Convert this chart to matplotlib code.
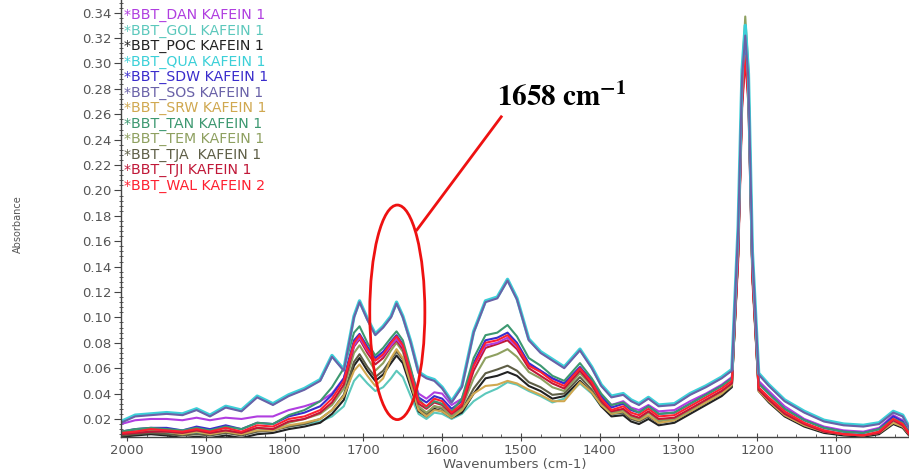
import matplotlib
matplotlib.use('Agg')
import matplotlib.pyplot as plt
from matplotlib.patches import Ellipse
from matplotlib.ticker import MultipleLocator, FormatStrFormatter

plt.rcParams['mathtext.fontset'] = 'stix'

# wavenumber grid (cm-1)
wn = [2008, 1990, 1970, 1950, 1930, 1912, 1895, 1875, 1855, 1835,
      1815, 1795, 1775, 1755, 1740, 1725, 1712, 1705, 1695, 1685,
      1675, 1665, 1658, 1650, 1640, 1630, 1620, 1610, 1600, 1588,
      1575, 1560, 1545, 1530, 1517, 1505, 1490, 1475, 1460, 1445,
      1425, 1410, 1398, 1385, 1370, 1360, 1350, 1338, 1325, 1305,
      1285, 1265, 1245, 1232, 1224, 1219, 1215, 1211, 1206, 1198,
      1185, 1165, 1140, 1115, 1090, 1065, 1045, 1027, 1015, 1007]

# absorbance of each sample
dan = [0.016, 0.019, 0.020, 0.020, 0.019, 0.021, 0.019, 0.021, 0.020, 0.022,
       0.022, 0.027, 0.030, 0.034, 0.040, 0.052, 0.078, 0.084, 0.074, 0.066,
       0.070, 0.078, 0.083, 0.077, 0.058, 0.040, 0.036, 0.041, 0.040, 0.031,
       0.036, 0.062, 0.078, 0.080, 0.084, 0.077, 0.063, 0.058, 0.052, 0.048,
       0.060, 0.050, 0.039, 0.031, 0.034, 0.029, 0.027, 0.031, 0.026, 0.027,
       0.034, 0.040, 0.047, 0.053, 0.155, 0.280, 0.318, 0.282, 0.145, 0.050,
       0.042, 0.030, 0.020, 0.014, 0.011, 0.010, 0.013, 0.023, 0.019, 0.011]
gol = [0.007, 0.008, 0.009, 0.009, 0.008, 0.009, 0.008, 0.009, 0.009, 0.011,
       0.012, 0.014, 0.016, 0.018, 0.022, 0.030, 0.050, 0.055, 0.048, 0.042,
       0.045, 0.052, 0.058, 0.053, 0.038, 0.024, 0.020, 0.025, 0.024, 0.020,
       0.024, 0.034, 0.040, 0.044, 0.049, 0.047, 0.042, 0.038, 0.033, 0.036,
       0.048, 0.040, 0.030, 0.024, 0.025, 0.021, 0.019, 0.022, 0.018, 0.019,
       0.026, 0.033, 0.040, 0.047, 0.150, 0.270, 0.305, 0.275, 0.135, 0.044,
       0.035, 0.024, 0.015, 0.010, 0.008, 0.007, 0.009, 0.017, 0.014, 0.008]
poc = [0.006, 0.007, 0.008, 0.007, 0.005, 0.006, 0.005, 0.007, 0.005, 0.008,
       0.009, 0.012, 0.014, 0.017, 0.024, 0.035, 0.062, 0.068, 0.058, 0.050,
       0.055, 0.064, 0.070, 0.064, 0.045, 0.026, 0.022, 0.028, 0.026, 0.021,
       0.025, 0.040, 0.052, 0.054, 0.057, 0.054, 0.046, 0.042, 0.036, 0.038,
       0.050, 0.041, 0.030, 0.022, 0.023, 0.018, 0.016, 0.020, 0.015, 0.017,
       0.024, 0.031, 0.038, 0.045, 0.150, 0.275, 0.318, 0.280, 0.135, 0.042,
       0.033, 0.022, 0.014, 0.009, 0.007, 0.006, 0.008, 0.016, 0.013, 0.007]
qua = [0.018, 0.023, 0.024, 0.025, 0.024, 0.028, 0.023, 0.030, 0.027, 0.038,
       0.032, 0.039, 0.044, 0.051, 0.070, 0.059, 0.101, 0.113, 0.099, 0.087,
       0.093, 0.101, 0.112, 0.101, 0.081, 0.057, 0.053, 0.051, 0.045, 0.034,
       0.046, 0.089, 0.113, 0.116, 0.130, 0.115, 0.083, 0.073, 0.067, 0.061,
       0.075, 0.061, 0.047, 0.038, 0.040, 0.035, 0.032, 0.037, 0.031, 0.032,
       0.040, 0.046, 0.053, 0.059, 0.172, 0.295, 0.330, 0.292, 0.152, 0.056,
       0.047, 0.035, 0.026, 0.019, 0.016, 0.015, 0.017, 0.026, 0.023, 0.014]
sdw = [0.010, 0.012, 0.013, 0.013, 0.011, 0.014, 0.012, 0.015, 0.012, 0.017,
       0.016, 0.022, 0.025, 0.030, 0.039, 0.052, 0.082, 0.087, 0.077, 0.068,
       0.073, 0.081, 0.086, 0.079, 0.058, 0.037, 0.033, 0.038, 0.036, 0.028,
       0.034, 0.064, 0.082, 0.084, 0.088, 0.080, 0.064, 0.058, 0.052, 0.048,
       0.061, 0.050, 0.038, 0.029, 0.032, 0.027, 0.025, 0.030, 0.024, 0.025,
       0.032, 0.039, 0.046, 0.052, 0.155, 0.275, 0.315, 0.278, 0.140, 0.048,
       0.040, 0.028, 0.019, 0.013, 0.010, 0.009, 0.012, 0.022, 0.018, 0.010]
sos = [0.017, 0.022, 0.023, 0.024, 0.023, 0.027, 0.022, 0.029, 0.026, 0.037,
       0.031, 0.038, 0.043, 0.050, 0.069, 0.058, 0.100, 0.112, 0.098, 0.086,
       0.092, 0.100, 0.111, 0.100, 0.080, 0.056, 0.052, 0.050, 0.044, 0.033,
       0.045, 0.088, 0.112, 0.115, 0.129, 0.114, 0.082, 0.072, 0.066, 0.060,
       0.074, 0.060, 0.046, 0.037, 0.039, 0.034, 0.031, 0.036, 0.030, 0.031,
       0.039, 0.045, 0.052, 0.058, 0.170, 0.290, 0.322, 0.288, 0.150, 0.055,
       0.046, 0.034, 0.025, 0.018, 0.015, 0.014, 0.016, 0.025, 0.022, 0.013]
srw = [0.008, 0.010, 0.011, 0.010, 0.008, 0.010, 0.008, 0.010, 0.008, 0.011,
       0.011, 0.015, 0.017, 0.020, 0.027, 0.038, 0.058, 0.063, 0.054, 0.046,
       0.052, 0.068, 0.075, 0.068, 0.048, 0.027, 0.022, 0.027, 0.026, 0.021,
       0.027, 0.040, 0.046, 0.047, 0.050, 0.048, 0.043, 0.039, 0.034, 0.034,
       0.049, 0.041, 0.031, 0.024, 0.026, 0.021, 0.019, 0.023, 0.017, 0.019,
       0.026, 0.033, 0.040, 0.047, 0.150, 0.275, 0.315, 0.280, 0.135, 0.042,
       0.034, 0.023, 0.015, 0.010, 0.008, 0.007, 0.009, 0.017, 0.014, 0.008]
tan = [0.010, 0.012, 0.013, 0.012, 0.011, 0.013, 0.011, 0.014, 0.012, 0.017,
       0.016, 0.023, 0.027, 0.034, 0.045, 0.060, 0.088, 0.093, 0.080, 0.070,
       0.076, 0.084, 0.089, 0.082, 0.060, 0.036, 0.029, 0.034, 0.032, 0.026,
       0.036, 0.068, 0.086, 0.088, 0.094, 0.085, 0.068, 0.062, 0.054, 0.050,
       0.064, 0.052, 0.040, 0.031, 0.033, 0.028, 0.025, 0.030, 0.024, 0.025,
       0.032, 0.039, 0.046, 0.052, 0.160, 0.285, 0.330, 0.290, 0.145, 0.048,
       0.040, 0.028, 0.019, 0.013, 0.010, 0.009, 0.012, 0.020, 0.017, 0.010]
tem = [0.009, 0.011, 0.011, 0.010, 0.009, 0.011, 0.009, 0.011, 0.009, 0.013,
       0.012, 0.017, 0.020, 0.024, 0.031, 0.044, 0.072, 0.078, 0.068, 0.058,
       0.064, 0.074, 0.080, 0.073, 0.052, 0.030, 0.025, 0.030, 0.029, 0.022,
       0.029, 0.052, 0.068, 0.071, 0.075, 0.069, 0.057, 0.052, 0.045, 0.042,
       0.056, 0.046, 0.034, 0.025, 0.027, 0.022, 0.020, 0.025, 0.019, 0.020,
       0.027, 0.035, 0.042, 0.048, 0.165, 0.290, 0.337, 0.295, 0.145, 0.044,
       0.036, 0.025, 0.016, 0.011, 0.008, 0.007, 0.010, 0.019, 0.015, 0.009]
tja = [0.007, 0.008, 0.009, 0.008, 0.007, 0.008, 0.007, 0.009, 0.007, 0.010,
       0.011, 0.014, 0.016, 0.020, 0.027, 0.039, 0.065, 0.071, 0.061, 0.053,
       0.058, 0.067, 0.073, 0.067, 0.048, 0.028, 0.024, 0.030, 0.028, 0.022,
       0.027, 0.044, 0.056, 0.059, 0.062, 0.058, 0.049, 0.045, 0.039, 0.040,
       0.053, 0.043, 0.032, 0.024, 0.025, 0.020, 0.018, 0.022, 0.017, 0.019,
       0.026, 0.033, 0.040, 0.046, 0.150, 0.272, 0.312, 0.276, 0.135, 0.043,
       0.034, 0.023, 0.015, 0.010, 0.008, 0.007, 0.009, 0.017, 0.014, 0.008]
tji = [0.008, 0.009, 0.010, 0.010, 0.009, 0.011, 0.009, 0.011, 0.009, 0.013,
       0.012, 0.018, 0.020, 0.025, 0.033, 0.047, 0.077, 0.083, 0.072, 0.063,
       0.068, 0.077, 0.082, 0.075, 0.053, 0.032, 0.028, 0.033, 0.031, 0.024,
       0.030, 0.058, 0.076, 0.079, 0.082, 0.075, 0.060, 0.054, 0.048, 0.044,
       0.058, 0.047, 0.034, 0.026, 0.028, 0.023, 0.021, 0.026, 0.020, 0.021,
       0.028, 0.035, 0.042, 0.048, 0.145, 0.265, 0.303, 0.268, 0.130, 0.043,
       0.035, 0.024, 0.016, 0.010, 0.008, 0.007, 0.009, 0.019, 0.015, 0.008]
wal = [0.009, 0.010, 0.012, 0.011, 0.010, 0.012, 0.010, 0.013, 0.010, 0.015,
       0.014, 0.020, 0.022, 0.027, 0.036, 0.050, 0.080, 0.086, 0.075, 0.066,
       0.071, 0.080, 0.085, 0.078, 0.056, 0.034, 0.030, 0.036, 0.034, 0.025,
       0.032, 0.062, 0.080, 0.082, 0.086, 0.078, 0.062, 0.057, 0.050, 0.046,
       0.060, 0.049, 0.036, 0.027, 0.030, 0.025, 0.023, 0.028, 0.022, 0.023,
       0.030, 0.037, 0.044, 0.050, 0.150, 0.270, 0.306, 0.272, 0.135, 0.045,
       0.037, 0.026, 0.017, 0.011, 0.008, 0.007, 0.010, 0.020, 0.016, 0.009]

# legend order (as in the list at top left)
names = ['BBT_DAN KAFEIN 1', 'BBT_GOL KAFEIN 1', 'BBT_POC KAFEIN 1',
         'BBT_QUA KAFEIN 1', 'BBT_SDW KAFEIN 1', 'BBT_SOS KAFEIN 1',
         'BBT_SRW KAFEIN 1', 'BBT_TAN KAFEIN 1', 'BBT_TEM KAFEIN 1',
         'BBT_TJA  KAFEIN 1', 'BBT_TJI KAFEIN 1', 'BBT_WAL KAFEIN 2']
spectra = [dan, gol, poc, qua, sdw, sos, srw, tan, tem, tja, tji, wal]
colors = ['#b03ee0', '#5cc8bc', '#222222', '#3cd0d8', '#3a2ccc', '#6a62a8',
          '#d0a850', '#3c9870', '#8ea060', '#5e5e46', '#c01838', '#ff2030']

# drawing order, bottom first
draw_order = [1, 2, 9, 6, 8, 10, 0, 4, 7, 11, 3, 5]

fig = plt.figure(figsize=(9.09, 4.72), dpi=100)
ax = fig.add_axes([121 / 909, 35 / 472, 788 / 909, 437 / 472])

for i in draw_order:
    lw = 2.4 if i == 3 else 1.5
    ax.plot(wn, spectra[i], color=colors[i], lw=lw, solid_joinstyle='round')

ax.set_xlim(2008, 1007)
ax.set_ylim(0.0058, 0.350)
ax.xaxis.set_major_locator(MultipleLocator(100))
ax.xaxis.set_minor_locator(MultipleLocator(25))
ax.yaxis.set_minor_locator(MultipleLocator(0.004))
ax.set_yticks([0.02 * k for k in range(1, 18)])
ax.yaxis.set_major_formatter(FormatStrFormatter('%.2f'))

for s in ['top', 'right']:
    ax.spines[s].set_visible(False)
for s in ['left', 'bottom']:
    ax.spines[s].set_color('#444444')
    ax.spines[s].set_linewidth(1.0)

ax.tick_params(axis='y', which='major', direction='out', length=5,
               color='#444444', labelsize=9.5, labelcolor='#555555', pad=2)
ax.tick_params(axis='y', which='minor', direction='inout', length=3,
               color='#444444')
ax.tick_params(axis='x', which='major', direction='inout', length=6,
               color='#444444', labelsize=9.5, labelcolor='#555555', pad=2)
ax.tick_params(axis='x', which='minor', direction='in', length=2,
               color='#444444')

ax.set_xlabel('Wavenumbers (cm-1)', fontsize=9.5, color='#555555', labelpad=1)
fig.text(18 / 909, 1 - 224 / 472, 'Absorbance', rotation=90, fontsize=7,
         color='#555555', ha='center', va='center',
         family=['Liberation Sans Narrow', 'DejaVu Sans'])

# sample names, coloured like their spectra
for k, (name, c) in enumerate(zip(names, colors)):
    ax.text(0.004, 0.9657 - k * 0.0355, '*' + name, transform=ax.transAxes,
            color=c, fontsize=10.2, va='center', ha='left')

# highlight of the amide band
ax.add_patch(Ellipse((1657, 0.104), 70, 0.169, fill=False,
                     edgecolor='#ee1111', lw=2, zorder=5))
ax.plot([1632, 1525], [0.169, 0.258], color='#ee1111', lw=2, zorder=5)
ax.text(1530, 0.273, r'$\mathbf{1658\ cm^{-1}}$', fontsize=21,
        color='black', ha='left', va='center')

fig.savefig('out.png', dpi=100)
